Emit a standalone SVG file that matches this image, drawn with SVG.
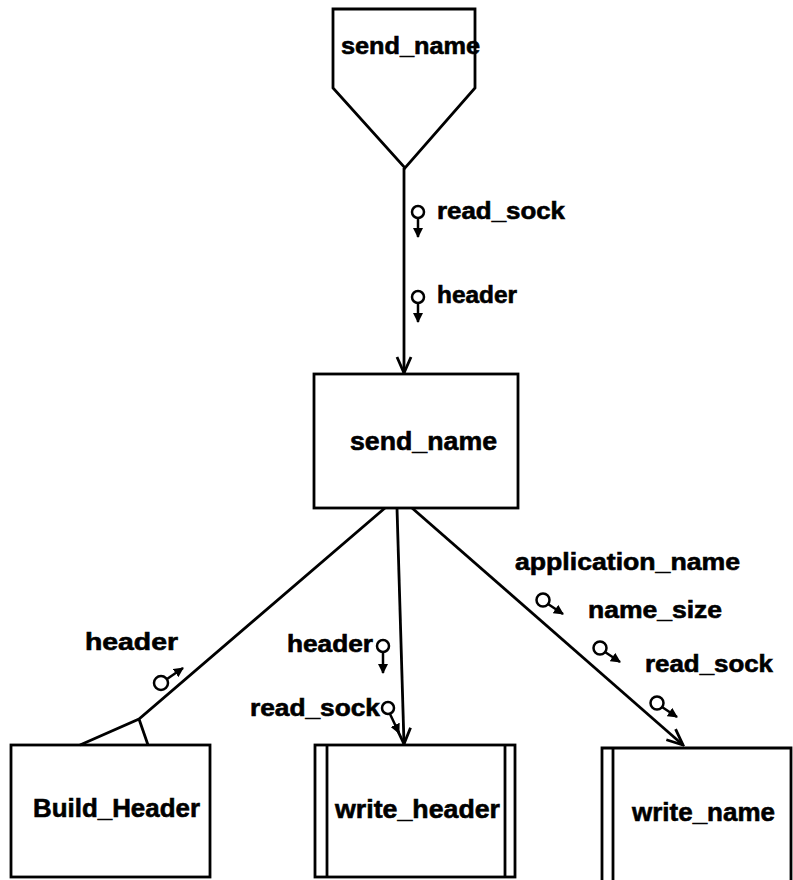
<svg xmlns="http://www.w3.org/2000/svg" width="793" height="880" viewBox="0 0 793 880">
<style>
.box{fill:#fff;stroke:#000;stroke-width:2.8}
.ln{fill:none;stroke:#000;stroke-width:2.8}
.conn{fill:none;stroke:#000;stroke-width:2.8}
.t{font-family:"Liberation Sans",Arial,sans-serif;font-weight:bold;font-size:23px;fill:#000;stroke:#000;stroke-width:0.6}
.bt{font-family:"Liberation Sans",Arial,sans-serif;font-weight:bold;font-size:26px;fill:#000;stroke:#000;stroke-width:0.6}
.mc{fill:#fff;stroke:#000;stroke-width:2.5}
.ms{fill:none;stroke:#000;stroke-width:2.5}
</style>
<defs>
<marker id="vee" viewBox="0 0 20 20" refX="18" refY="10" markerWidth="20" markerHeight="20" markerUnits="userSpaceOnUse" orient="auto">
<path d="M2,3 L18,10 L2,17" fill="none" stroke="#000" stroke-width="2.8"/>
</marker>
<marker id="tri" viewBox="0 0 10 10" refX="9" refY="5" markerWidth="10" markerHeight="10" markerUnits="userSpaceOnUse" orient="auto">
<path d="M0,0 L10,5 L0,10 Z" fill="#000"/>
</marker>
</defs>

<g id="node-send_name-source">
<path class="box" d="M333,9 L475,9 L475,88 L405,168 L333,88 Z"/>
<text class="t" x="341" y="54" textLength="139" lengthAdjust="spacingAndGlyphs">send_name</text>
</g>

<g id="node-send_name">
<rect class="box" x="314" y="374" width="204" height="134"/>
<text class="bt" x="350" y="450" textLength="147" lengthAdjust="spacingAndGlyphs">send_name</text>
</g>

<g id="node-Build_Header">
<rect class="box" x="11" y="745" width="199" height="132"/>
<text class="bt" x="33" y="817" textLength="167" lengthAdjust="spacingAndGlyphs">Build_Header</text>
</g>

<g id="node-write_header">
<rect class="box" x="315" y="745" width="200" height="132"/>
<line class="ln" x1="327" y1="745" x2="327" y2="877"/>
<line class="ln" x1="505" y1="745" x2="505" y2="877"/>
<text class="bt" x="335" y="818" textLength="165" lengthAdjust="spacingAndGlyphs">write_header</text>
</g>

<g id="node-write_name">
<path class="ln" d="M602,882 L602,748 L791,748 L791,882"/>
<line class="ln" x1="613" y1="748" x2="613" y2="882"/>
<text class="bt" x="632" y="821" textLength="143" lengthAdjust="spacingAndGlyphs">write_name</text>
</g>

<g id="connectors">
<line class="conn" x1="404" y1="168" x2="404" y2="373" marker-end="url(#vee)"/>
<path class="conn" d="M385,508 L139,719 L80,745 M139,719 L148,745"/>
<line class="conn" x1="397" y1="508" x2="404" y2="744" marker-end="url(#vee)"/>
<line class="conn" x1="412" y1="508" x2="683" y2="745" marker-end="url(#vee)"/>

<g id="flow-labels">
<circle class="mc" cx="418" cy="212" r="6"/>
<line class="ms" x1="418" y1="218" x2="418" y2="237" marker-end="url(#tri)"/>
<text class="t" x="437" y="219" textLength="128" lengthAdjust="spacingAndGlyphs">read_sock</text>

<circle class="mc" cx="418" cy="297" r="6"/>
<line class="ms" x1="418" y1="303" x2="418" y2="322" marker-end="url(#tri)"/>
<text class="t" x="437" y="303" textLength="80" lengthAdjust="spacingAndGlyphs">header</text>

<text class="t" x="85" y="650" textLength="93" lengthAdjust="spacingAndGlyphs">header</text>
<circle class="mc" cx="161" cy="683" r="7"/>
<line class="ms" x1="167" y1="679" x2="183" y2="668" marker-end="url(#tri)"/>

<text class="t" x="287" y="652" textLength="86" lengthAdjust="spacingAndGlyphs">header</text>
<circle class="mc" cx="383" cy="646" r="6"/>
<line class="ms" x1="383" y1="652" x2="383" y2="673" marker-end="url(#tri)"/>

<text class="t" x="250" y="716" textLength="130" lengthAdjust="spacingAndGlyphs">read_sock</text>
<circle class="mc" cx="388" cy="708" r="6"/>
<line class="ms" x1="390" y1="714" x2="399" y2="733" marker-end="url(#tri)"/>

<text class="t" x="515" y="570" textLength="225" lengthAdjust="spacingAndGlyphs">application_name</text>
<circle class="mc" cx="543" cy="600" r="6.5"/>
<line class="ms" x1="548" y1="604" x2="563" y2="614" marker-end="url(#tri)"/>

<text class="t" x="588" y="618" textLength="134" lengthAdjust="spacingAndGlyphs">name_size</text>
<circle class="mc" cx="600" cy="648" r="6.5"/>
<line class="ms" x1="605" y1="652" x2="620" y2="662" marker-end="url(#tri)"/>

<text class="t" x="645" y="672" textLength="128" lengthAdjust="spacingAndGlyphs">read_sock</text>
<circle class="mc" cx="657" cy="703" r="6.5"/>
<line class="ms" x1="662" y1="707" x2="677" y2="717" marker-end="url(#tri)"/>
</g>
</g>
</svg>
